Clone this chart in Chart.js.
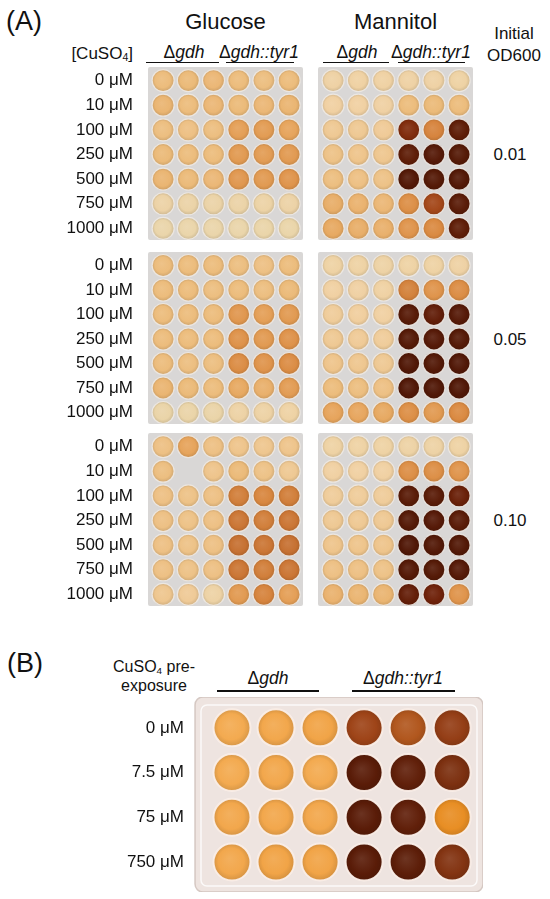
<!DOCTYPE html>
<html>
<head>
<meta charset="utf-8">
<script src="https://cdn.jsdelivr.net/npm/chart.js@4.4.1/dist/chart.umd.min.js"></script>
<style>
  body { margin: 0; background: #fff; }
  #fig { position: relative; width: 550px; height: 899px; overflow: hidden;
         font-family: "Liberation Sans", Arial, sans-serif; color: #111; }
  .t { position: absolute; white-space: nowrap; line-height: normal; }
  .line { position: absolute; height: 1.5px; background: #111; }
  sub { font-size: 0.62em; vertical-align: -0.2em; line-height: 0; }
</style>
</head>
<body>
<div id="fig"></div>
<script>
// Row labels (CuSO4 concentration) and other labels
const concA = ["0 μM", "10 μM", "100 μM", "250 μM", "500 μM", "750 μM", "1000 μM"];
const concB = ["0 μM", "7.5 μM", "75 μM", "750 μM"];
const odValues = ["0.01", "0.05", "0.10"];
const media = ["Glucose", "Mannitol"];

// Pigment level of every well (0 = pale, 10 = darkest brown)
// columns 1-3 = Δgdh, columns 4-6 = Δgdh::tyr1, null = empty well
const glucose001 = [
    [3.0, 3.1, 3.2, 3.0, 2.9, 3.0],
    [3.3, 3.0, 3.2, 3.1, 3.2, 3.3],
    [2.9, 2.8, 2.9, 4.2, 4.3, 4.0],
    [3.1, 3.0, 3.0, 4.4, 4.3, 4.4],
    [3.3, 3.1, 3.2, 4.5, 4.4, 4.6],
    [1.4, 1.2, 1.2, 1.2, 1.3, 1.4],
    [0.8, 0.8, 0.8, 0.8, 0.9, 0.9]
];
const mannitol001 = [
    [1.7, 1.8, 1.8, 1.7, 1.7, 1.6],
    [2.0, 2.0, 1.9, 3.0, 3.1, 3.0],
    [2.4, 2.4, 2.3, 7.7, 5.2, 8.8],
    [2.7, 2.6, 2.5, 8.8, 9.2, 9.3],
    [2.9, 2.8, 2.7, 9.4, 9.3, 9.4],
    [3.6, 3.4, 3.2, 4.8, 6.8, 9.0],
    [3.8, 3.6, 3.5, 4.6, 5.0, 8.8]
];
const glucose005 = [
    [3.0, 3.0, 3.0, 2.9, 2.8, 3.0],
    [3.0, 3.0, 2.9, 3.0, 2.9, 3.1],
    [3.0, 3.0, 3.0, 4.5, 4.2, 4.4],
    [3.0, 3.0, 3.0, 4.7, 4.4, 4.7],
    [3.0, 2.9, 2.9, 4.9, 4.6, 4.9],
    [3.3, 3.1, 3.0, 3.8, 3.5, 4.3],
    [1.0, 1.0, 1.0, 1.5, 1.5, 1.6]
];
const mannitol005 = [
    [1.6, 1.6, 1.5, 1.6, 1.6, 1.7],
    [2.0, 1.9, 1.8, 5.3, 4.6, 4.9],
    [2.2, 2.1, 2.0, 9.1, 8.7, 9.2],
    [2.4, 2.3, 2.2, 9.3, 9.2, 9.3],
    [2.6, 2.5, 2.4, 9.5, 9.4, 9.5],
    [3.0, 2.9, 2.8, 9.5, 9.5, 9.5],
    [4.0, 3.9, 3.8, 4.8, 4.4, 5.0]
];
const glucose010 = [
    [2.8, 4.0, 2.8, 2.6, 2.5, 2.6],
    [2.9, null, 2.6, 3.1, 2.7, 2.4],
    [2.8, 2.7, 2.8, 5.4, 5.1, 5.4],
    [2.8, 2.7, 2.8, 5.7, 5.4, 5.7],
    [2.8, 2.7, 2.8, 5.9, 5.7, 5.9],
    [2.8, 2.7, 2.8, 5.7, 5.4, 5.7],
    [2.5, 2.3, 1.5, 4.4, 5.2, 4.2]
];
const mannitol010 = [
    [1.6, 1.6, 1.6, 1.5, 1.5, 1.6],
    [2.0, 2.0, 2.0, 4.8, 4.8, 4.6],
    [2.2, 2.2, 2.2, 9.0, 9.0, 8.4],
    [2.4, 2.4, 2.4, 9.3, 9.2, 9.0],
    [2.6, 2.6, 2.6, 9.5, 9.4, 9.4],
    [2.8, 2.8, 2.7, 9.3, 9.3, 9.2],
    [3.4, 3.3, 3.3, 8.6, 8.2, 4.6]
];
const preExposure = [
    [4.0, 4.1, 4.2, 7.0, 6.4, 7.3],
    [4.0, 4.1, 4.0, 9.0, 8.8, 8.0],
    [4.1, 4.1, 4.1, 9.0, 8.8, 5.0],
    [4.1, 4.2, 4.2, 9.0, 8.9, 7.8]
];

const FONT = '"Liberation Sans", Arial, sans-serif';

// colour ramps: pigment level 0..10 -> rgb
const rampA = [[232, 218, 178], [234, 212, 168], [240, 208, 162], [236, 188, 124], [230, 164, 92],
               [218, 138, 66], [196, 110, 48], [156, 62, 20], [116, 36, 10], [90, 28, 8], [72, 20, 6]];
const rampB = [[246, 200, 130], [246, 192, 118], [245, 184, 102], [244, 177, 90], [243, 170, 80],
               [232, 142, 36], [190, 100, 34], [158, 68, 24], [124, 48, 16], [90, 28, 8], [70, 20, 6]];

function rampRgb(stops, v) {
    const i = Math.max(0, Math.min(stops.length - 2, Math.floor(v)));
    const t = Math.min(1, Math.max(0, v - i));
    const a = stops[i], b = stops[i + 1];
    return a.map((c, k) => Math.round(c + (b[k] - c) * t));
}

function shade(rgb, f) {
    // f > 0 mixes towards white, f < 0 towards black
    const target = f > 0 ? 255 : 0;
    const m = Math.abs(f);
    return "rgb(" + rgb.map(c => Math.round(c + (target - c) * m)).join(",") + ")";
}

// each well gets a soft radial gradient: lighter centre, darker rim
function wellFill(ctx, look) {
    if (!ctx.raw || ctx.raw.v === undefined) return "rgba(0,0,0,0)";
    const chart = ctx.chart;
    const rgb = rampRgb(look.stops, ctx.raw.v);
    const x = chart.scales.x ? chart.scales.x.getPixelForValue(ctx.raw.x) : NaN;
    const y = chart.scales.y ? chart.scales.y.getPixelForValue(ctx.raw.y) : NaN;
    if (!isFinite(x) || !isFinite(y)) return shade(rgb, 0);
    const r = look.radius;
    const g = chart.ctx.createRadialGradient(x - r * 0.15, y - r * 0.2, 0, x, y, r);
    g.addColorStop(0, shade(rgb, 0.1));
    g.addColorStop(0.7, shade(rgb, 0));
    g.addColorStop(1, shade(rgb, -0.12));
    return g;
}

// draws the plastic plate behind the wells
const plateBg = {
    id: "plateBg",
    beforeDatasetsDraw(chart, args, o) {
        const { ctx, chartArea: a } = chart;
        ctx.save();
        ctx.beginPath();
        ctx.roundRect(a.left, a.top, a.width, a.height, o.corner);
        ctx.fillStyle = o.color;
        ctx.fill();
        if (o.edge) {
            ctx.strokeStyle = o.edge;
            ctx.lineWidth = 1.5;
            ctx.stroke();
            ctx.beginPath();
            ctx.roundRect(a.left + 6, a.top + 8, a.width - 12, a.height - 14, 6);
            ctx.strokeStyle = "rgba(255,255,255,0.8)";
            ctx.stroke();
        }
        ctx.restore();
    }
};

const fig = document.getElementById("fig");

function addPlate(left, top, w, h, axisW, grid, rows, look) {
    const canvas = document.createElement("canvas");
    canvas.width = w + axisW;
    canvas.height = h;
    canvas.style.position = "absolute";
    canvas.style.left = (left - axisW) + "px";
    canvas.style.top = top + "px";
    fig.appendChild(canvas);

    const points = [];
    grid.forEach((row, r) => row.forEach((v, c) => {
        if (v !== null) points.push({ x: c + 1, y: r + 1, v: v });
    }));

    new Chart(canvas, {
        type: "scatter",
        data: {
            datasets: [{
                data: points,
                pointRadius: look.radius,
                pointHoverRadius: look.radius,
                pointBackgroundColor: ctx => wellFill(ctx, look),
                pointBorderColor: look.rim,
                pointBorderWidth: look.rimWidth
            }]
        },
        options: {
            responsive: false,
            animation: false,
            events: [],
            layout: { padding: 0, autoPadding: false },
            plugins: {
                legend: { display: false },
                tooltip: { enabled: false },
                plateBg: { color: look.bg, corner: look.corner, edge: look.edge }
            },
            scales: {
                x: { type: "linear", min: look.xMin, max: look.xMax, display: false },
                y: {
                    type: "linear", reverse: true, min: look.yMin, max: look.yMax,
                    display: axisW > 0,
                    grid: { display: false, drawTicks: false },
                    border: { display: false },
                    ticks: {
                        padding: look.tickPad, color: "#111",
                        font: { family: FONT, size: 17 },
                        callback: v => rows[v - 1]
                    },
                    afterBuildTicks: s => { s.ticks = rows.map((_, i) => ({ value: i + 1 })); },
                    afterFit: s => { s.width = axisW; s.paddingTop = 0; s.paddingBottom = 0; }
                }
            }
        },
        plugins: [plateBg]
    });
}

// text helper: align "c" = centred, "l" = left edge, "r" = right edge at x
function text(html, x, y, size, align) {
    const d = document.createElement("div");
    d.className = "t";
    d.innerHTML = html;
    d.style.fontSize = size + "px";
    d.style.left = x + "px";
    d.style.top = y + "px";
    const tx = align === "l" ? "0" : align === "r" ? "-100%" : "-50%";
    d.style.transform = "translate(" + tx + ",-50%)";
    fig.appendChild(d);
}

function underline(x1, x2, y) {
    const d = document.createElement("div");
    d.className = "line";
    d.style.left = x1 + "px";
    d.style.width = (x2 - x1) + "px";
    d.style.top = y + "px";
    fig.appendChild(d);
}

document.addEventListener("DOMContentLoaded", function () {
    const lookA = { radius: 11, rim: "rgba(238,234,230,0.9)", rimWidth: 1.2, stops: rampA,
                    bg: "#d9d7d6", corner: 2, edge: null, tickPad: 15,
                    xMin: 0.4, xMax: 6.55, yMin: 0.45, yMax: 7.47 };
    const lookB = { radius: 18.5, rim: "rgba(250,238,232,0.95)", rimWidth: 2, stops: rampB,
                    bg: "#eee4e0", corner: 8, edge: "rgba(205,190,184,0.8)", tickPad: 11,
                    xMin: 0.16, xMax: 6.7, yMin: 0.31, yMax: 4.67 };

    // panel A: three initial OD600 rows x two carbon sources
    const plates = [[glucose001, mannitol001], [glucose005, mannitol005], [glucose010, mannitol010]];
    const tops = [67, 252, 433];
    plates.forEach((pair, i) => {
        addPlate(148, tops[i], 155, i === 1 ? 172 : 173, 100, pair[0], concA, lookA);
        addPlate(318, tops[i], 155, i === 1 ? 172 : 173, 0, pair[1], concA, lookA);
        text(odValues[i], 510, tops[i] + 88, 17, "c");
    });

    // panel B: pre-exposure plate
    addPlate(195, 697, 288, 195, 130, preExposure, concB, lookB);

    // panel A headers
    text("(A)", 6, 21, 27, "l");
    text(media[0], 225.5, 22, 22, "c");
    text(media[1], 395.5, 22, 22, "c");
    text("[CuSO<sub>4</sub>]", 133, 54, 17, "r");
    text("Δ<i>gdh</i>", 184, 52, 17.5, "c");
    text("Δ<i>gdh::tyr1</i>", 259, 52, 17.5, "c");
    text("Δ<i>gdh</i>", 357, 52, 17.5, "c");
    text("Δ<i>gdh::tyr1</i>", 431, 52, 17.5, "c");
    underline(146, 219, 61.5);
    underline(226, 294, 61.5);
    underline(323, 389, 61.5);
    underline(398, 465, 61.5);
    text("Initial", 514, 34, 17, "c");
    text("OD600", 514, 56, 17, "c");

    // panel B headers
    text("(B)", 7, 663, 27, "l");
    text("CuSO<sub>4</sub> pre-", 154, 667, 16, "c");
    text("exposure", 154, 686, 16, "c");
    text("Δ<i>gdh</i>", 268, 678, 17.5, "c");
    text("Δ<i>gdh::tyr1</i>", 403, 678, 17.5, "c");
    underline(217, 319, 690);
    underline(352, 455, 690);
});
</script>
</body>
</html>
